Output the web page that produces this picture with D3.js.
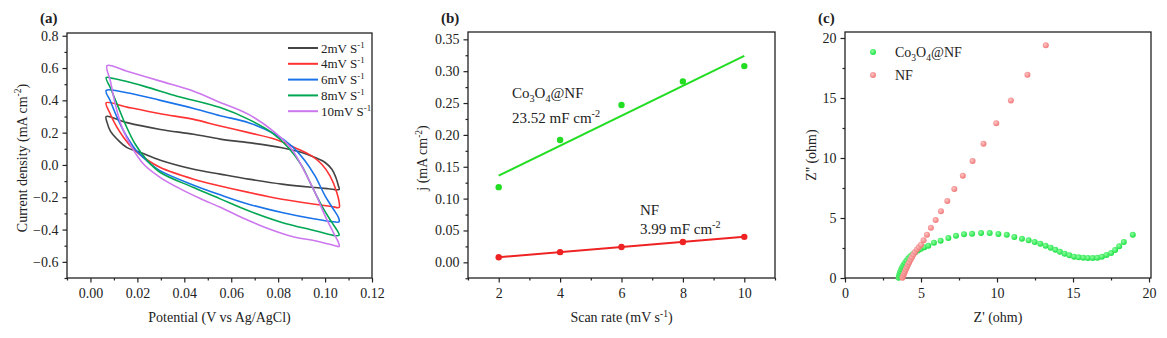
<!DOCTYPE html>
<html>
<head>
<meta charset="utf-8">
<script src="https://cdn.jsdelivr.net/npm/d3@7"></script>
<style>
  body { margin: 0; background: #fff; }
  svg { display: block; font-family: "Liberation Serif", "Times New Roman", serif; }
</style>
</head>
<body>
<svg id="chart" width="1167" height="338"></svg>
<script>
// ---- (a) CV loops, potential (V) / current density (mA cm-2) ----
const cvLabels = ["2mV", "4mV", "6mV", "8mV", "10mV"];
const cvColors = ["#444444", "#ff3333", "#1a73e8", "#00a651", "#cc77ee"];

const cv2V = [0.0067,0.0156,0.0298,0.044,0.0553,0.0674,0.0816,0.0901,0.0957,0.100,0.1029,0.1046,0.1057,0.106,0.1014,0.0957,0.0816,0.0674,0.0553,0.044,0.0298,0.0213,0.0156,0.0114,0.0085,0.0071];
const cv2J = [0.30,0.262,0.22,0.19,0.16,0.138,0.107,0.077,0.046,0.015,-0.027,-0.078,-0.13,-0.152,-0.147,-0.14,-0.119,-0.088,-0.057,-0.027,0.029,0.077,0.107,0.159,0.21,0.262];

const cv4V = [0.0067,0.0156,0.0298,0.044,0.0553,0.0674,0.0787,0.0872,0.0943,0.0986,0.1021,0.105,0.106,0.106,0.1028,0.0957,0.0816,0.0674,0.0553,0.044,0.0298,0.0227,0.0184,0.0142,0.0106,0.0082];
const cv4J = [0.385,0.358,0.317,0.282,0.241,0.2,0.159,0.107,0.056,0.004,-0.068,-0.17,-0.232,-0.263,-0.257,-0.243,-0.212,-0.17,-0.13,-0.088,-0.016,0.046,0.097,0.169,0.251,0.323];

const cv6V = [0.0067,0.0156,0.0298,0.044,0.0553,0.0674,0.0787,0.0858,0.0915,0.0957,0.100,0.1035,0.1057,0.106,0.1035,0.0957,0.0816,0.0674,0.0553,0.044,0.0298,0.0241,0.0191,0.0149,0.0114,0.0085];
const cv6J = [0.461,0.447,0.40,0.35,0.305,0.262,0.19,0.117,0.025,-0.068,-0.191,-0.273,-0.325,-0.352,-0.352,-0.335,-0.294,-0.243,-0.185,-0.125,-0.037,0.025,0.097,0.19,0.293,0.395];

const cv8V = [0.0067,0.0099,0.0227,0.0369,0.0553,0.0674,0.0773,0.0844,0.0901,0.0943,0.0986,0.1029,0.1052,0.106,0.1043,0.0957,0.0816,0.0674,0.0553,0.044,0.0298,0.0241,0.0191,0.0149,0.0114,0.0085];
const cv8J = [0.54,0.535,0.488,0.426,0.355,0.282,0.20,0.107,-0.006,-0.13,-0.253,-0.356,-0.407,-0.434,-0.438,-0.407,-0.356,-0.284,-0.21,-0.14,-0.047,0.029,0.128,0.251,0.375,0.478];

const cv10V = [0.0071,0.0156,0.0298,0.044,0.054,0.0674,0.0787,0.0858,0.0915,0.0957,0.100,0.1035,0.1057,0.106,0.1043,0.0957,0.0872,0.0745,0.0645,0.0553,0.0468,0.0383,0.0298,0.0227,0.0177,0.0135,0.0106,0.0085];
const cv10J = [0.615,0.58,0.519,0.457,0.395,0.313,0.20,0.097,-0.047,-0.17,-0.315,-0.417,-0.48,-0.505,-0.5,-0.469,-0.448,-0.387,-0.325,-0.262,-0.208,-0.148,-0.078,0.004,0.107,0.231,0.375,0.519];

// ---- (b) current vs scan rate ----
const scanRates = [2, 4, 6, 8, 10];
const coJ = [0.118, 0.192, 0.247, 0.284, 0.308];
const nfJ = [0.008, 0.016, 0.024, 0.032, 0.040];
const fitX = [2, 10];
const coFit = [0.136, 0.324];
const nfFit = [0.008, 0.040];

// ---- (c) Nyquist ----
const coZre = [3.53,3.56,3.60,3.65,3.71,3.78,3.86,3.95,4.05,4.17,4.30,4.45,4.62,4.80,5.00,5.22,5.48,5.85,6.29,6.80,7.30,7.83,8.36,8.95,9.52,10.09,10.64,11.14,11.64,12.08,12.48,12.85,13.20,13.53,13.84,14.14,14.45,14.76,15.07,15.37,15.68,15.98,16.29,16.60,16.90,17.20,17.51,17.77,18.04,18.34,18.93];
const coZim = [0.02,0.2,0.38,0.56,0.74,0.92,1.1,1.28,1.46,1.64,1.82,1.98,2.14,2.3,2.44,2.57,2.69,2.94,3.11,3.33,3.53,3.64,3.69,3.75,3.75,3.67,3.61,3.42,3.28,3.14,3.0,2.86,2.69,2.53,2.36,2.19,2.03,1.89,1.78,1.72,1.69,1.67,1.67,1.69,1.78,1.92,2.08,2.33,2.64,3.0,3.61];
const nfZre = [3.78,3.83,3.88,3.94,4.00,4.07,4.14,4.22,4.31,4.40,4.50,4.61,4.73,4.86,5.00,5.17,5.39,5.65,5.96,6.31,6.73,7.19,7.75,8.39,9.11,9.95,10.91,12.00,13.21];
const nfZim = [0.03,0.18,0.34,0.52,0.70,0.90,1.10,1.30,1.52,1.73,1.95,2.16,2.38,2.58,2.78,3.14,3.61,4.19,4.83,5.56,6.42,7.42,8.53,9.75,11.19,12.89,14.80,16.94,19.39];

const svg = d3.select("#chart");
const FS = 14;
const INK = "#222";

// text with sub/superscripts; parts = ["text", ["-1","sup"], ...]
function addText(parent, x, y, parts, opts = {}) {
    const fs = opts.size || FS;
    const t = parent.append("text")
        .attr("x", x).attr("y", y)
        .attr("font-size", fs)
        .attr("fill", INK);
    if (opts.anchor) t.attr("text-anchor", opts.anchor);
    if (opts.weight) t.attr("font-weight", opts.weight);
    if (opts.rotate) t.attr("transform", `rotate(-90,${x},${y})`);
    let cur = 0;
    parts.forEach(p => {
        const [s, kind] = Array.isArray(p) ? p : [p, null];
        const off = kind === "sup" ? -0.38 * fs : kind === "sub" ? 0.28 * fs : 0;
        const ts = t.append("tspan").attr("dy", off - cur).text(s);
        if (kind) ts.attr("font-size", fs * 0.68);
        cur = off;
    });
    return t;
}

function panel(cfg) {
    const g = svg.append("g");
    const x = d3.scaleLinear().domain(cfg.xDomain).range([cfg.left, cfg.right]);
    const y = d3.scaleLinear().domain(cfg.yDomain).range([cfg.bottom, cfg.top]);

    const styleAxis = a => {
        a.attr("font-family", null).attr("font-size", FS);
        a.select(".domain").remove();
        a.selectAll("line").attr("stroke", INK).attr("stroke-width", 1.2);
        a.selectAll("text").attr("fill", INK);
    };

    g.append("g").attr("transform", `translate(0,${cfg.bottom})`)
        .call(d3.axisBottom(x).tickValues(cfg.xMinor).tickSize(2.5).tickSizeOuter(0).tickFormat(""))
        .call(styleAxis);
    g.append("g").attr("transform", `translate(0,${cfg.bottom})`)
        .call(d3.axisBottom(x).tickValues(cfg.xMajor).tickSize(4.5).tickSizeOuter(0).tickPadding(6).tickFormat(cfg.xFmt))
        .call(styleAxis);
    g.append("g").attr("transform", `translate(${cfg.left},0)`)
        .call(d3.axisLeft(y).tickValues(cfg.yMinor).tickSize(2.5).tickSizeOuter(0).tickFormat(""))
        .call(styleAxis);
    g.append("g").attr("transform", `translate(${cfg.left},0)`)
        .call(d3.axisLeft(y).tickValues(cfg.yMajor).tickSize(4.5).tickSizeOuter(0).tickPadding(4).tickFormat(cfg.yFmt))
        .call(styleAxis);

    g.append("rect")
        .attr("x", cfg.left).attr("y", cfg.top)
        .attr("width", cfg.right - cfg.left).attr("height", cfg.bottom - cfg.top)
        .attr("fill", "none").attr("stroke", INK).attr("stroke-width", 1.3);

    addText(g, cfg.left - 27, 23, [cfg.tag], { size: 15, weight: "bold" });
    addText(g, (cfg.left + cfg.right) / 2, 322, cfg.xTitle, { anchor: "middle" });
    addText(g, cfg.yTitleX, cfg.yTitleY, cfg.yTitle, { anchor: "middle", rotate: true });
    return { g, x, y };
}

// ================= (a) =================
const pa = panel({
    left: 67, right: 372, top: 33, bottom: 278,
    xDomain: [-0.01, 0.12], yDomain: [-0.7, 0.817],
    xMajor: d3.range(0, 0.121, 0.02), xMinor: d3.range(-0.01, 0.12, 0.02),
    yMajor: d3.range(-0.6, 0.81, 0.2), yMinor: d3.range(-0.7, 0.81, 0.2),
    xFmt: d3.format(".2f"), yFmt: d3.format(".1f"),
    tag: "(a)",
    xTitle: ["Potential (V vs Ag/AgCl)"],
    yTitle: ["Current density (mA cm", ["-2", "sup"], ")"],
    yTitleX: 26.5, yTitleY: 158
});

const cvSets = [[cv2V, cv2J], [cv4V, cv4J], [cv6V, cv6J], [cv8V, cv8J], [cv10V, cv10J]];
const cvLine = d3.line()
    .x(d => pa.x(d[0]))
    .y(d => pa.y(d[1]))
    .curve(d3.curveCatmullRomClosed.alpha(0.5));

cvSets.forEach(([v, j], i) => {
    pa.g.append("path")
        .attr("d", cvLine(v.map((vv, k) => [vv, j[k]])))
        .attr("fill", "none")
        .attr("stroke", cvColors[i])
        .attr("stroke-width", 1.6);
});

const legA = pa.g.append("g").attr("transform", "translate(288,48)");
cvLabels.forEach((lab, i) => {
    const yy = i * 15.8;
    legA.append("line")
        .attr("x1", 0).attr("x2", 30).attr("y1", yy).attr("y2", yy)
        .attr("stroke", cvColors[i]).attr("stroke-width", 2);
    addText(legA, 33, yy + 4.5, [lab + " S", ["-1", "sup"]], { size: 13 });
});

// ================= (b) =================
const pb = panel({
    left: 468, right: 775, top: 32, bottom: 278,
    xDomain: [1, 11], yDomain: [-0.0246, 0.3615],
    xMajor: [2, 4, 6, 8, 10], xMinor: [1, 3, 5, 7, 9, 11],
    yMajor: d3.range(0, 0.351, 0.05), yMinor: d3.range(-0.025, 0.36, 0.05),
    xFmt: d3.format("d"), yFmt: d3.format(".2f"),
    tag: "(b)",
    xTitle: ["Scan rate (mV s", ["-1", "sup"], ")"],
    yTitle: ["j (mA cm", ["-2", "sup"], ")"],
    yTitleX: 427, yTitleY: 158
});

const fitLine = d3.line().x(d => pb.x(d[0])).y(d => pb.y(d[1]));
const seriesB = [
    { pts: coJ, fit: coFit, color: "#22dd22" },
    { pts: nfJ, fit: nfFit, color: "#ee2222" }
];
seriesB.forEach(s => {
    pb.g.append("path")
        .attr("d", fitLine(fitX.map((xx, k) => [xx, s.fit[k]])))
        .attr("stroke", s.color).attr("stroke-width", 2).attr("fill", "none");
    pb.g.selectAll(null)
        .data(scanRates.map((r, k) => [r, s.pts[k]]))
        .enter().append("circle")
        .attr("cx", d => pb.x(d[0]))
        .attr("cy", d => pb.y(d[1]))
        .attr("r", 3.2)
        .attr("fill", s.color);
});

addText(pb.g, 512, 98, ["Co", ["3", "sub"], "O", ["4", "sub"], "@NF"], { size: 15 });
addText(pb.g, 512, 123, ["23.52 mF cm", ["-2", "sup"]], { size: 15 });
addText(pb.g, 640, 215, ["NF"], { size: 15 });
addText(pb.g, 640, 234, ["3.99 mF cm", ["-2", "sup"]], { size: 15 });

// ================= (c) =================
const pc = panel({
    left: 845, right: 1151, top: 32, bottom: 278,
    xDomain: [0, 20.13], yDomain: [0, 20.5],
    xMajor: [0, 5, 10, 15, 20], xMinor: [2.5, 7.5, 12.5, 17.5],
    yMajor: [0, 5, 10, 15, 20], yMinor: [2.5, 7.5, 12.5, 17.5],
    xFmt: d3.format("d"), yFmt: d3.format("d"),
    tag: "(c)",
    xTitle: ["Z' (ohm)"],
    yTitle: ["Z'' (ohm)"],
    yTitleX: 816, yTitleY: 155
});

const defs = svg.append("defs");
function ballGrad(id, light, base) {
    const gr = defs.append("radialGradient").attr("id", id)
        .attr("cx", "40%").attr("cy", "38%").attr("r", "60%");
    gr.append("stop").attr("offset", "0%").attr("stop-color", light);
    gr.append("stop").attr("offset", "100%").attr("stop-color", base);
}
ballGrad("gGreen", "#8dffa0", "#1ee044");
ballGrad("gRed", "#ffc4c4", "#f07b7b");

const seriesC = [
    { xs: coZre, ys: coZim, fill: "url(#gGreen)", label: ["Co", ["3", "sub"], "O", ["4", "sub"], "@NF"] },
    { xs: nfZre, ys: nfZim, fill: "url(#gRed)", label: ["NF"] }
];
seriesC.forEach((s, i) => {
    pc.g.selectAll(null)
        .data(s.xs.map((xx, k) => [xx, s.ys[k]]))
        .enter().append("circle")
        .attr("cx", d => pc.x(d[0]))
        .attr("cy", d => pc.y(d[1]))
        .attr("r", 3)
        .attr("fill", s.fill);
    const ly = 52 + i * 23;
    pc.g.append("circle").attr("cx", 873).attr("cy", ly).attr("r", 3).attr("fill", s.fill);
    addText(pc.g, 895, ly + 5, s.label, { size: 14 });
});
</script>
</body>
</html>
